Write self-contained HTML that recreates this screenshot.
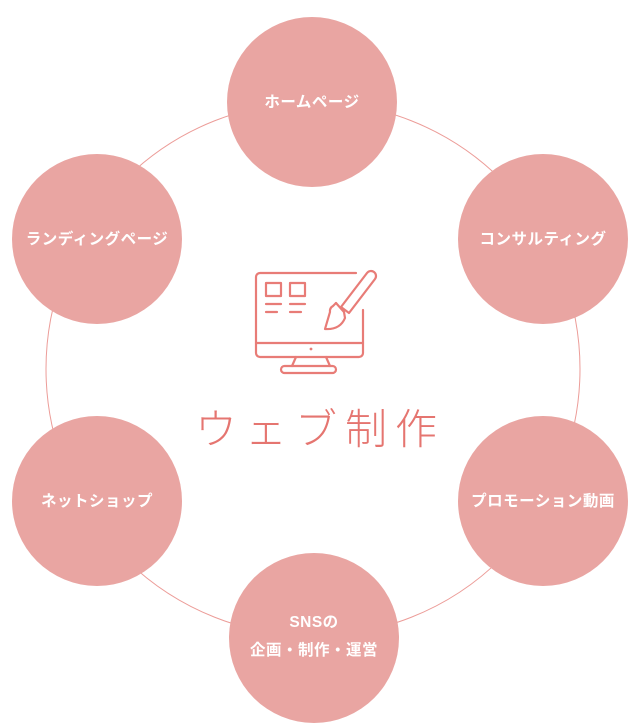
<!DOCTYPE html>
<html><head><meta charset="utf-8"><style>
html,body{margin:0;padding:0;background:#fff;}
svg{display:block;}
.l{font-family:"Liberation Sans","Noto Sans CJK JP",sans-serif;font-weight:bold;font-size:15.5px;fill:#fff;text-anchor:middle;letter-spacing:0.5px;}
</style></head><body>
<svg width="632" height="728" viewBox="0 0 632 728" xmlns="http://www.w3.org/2000/svg">
<circle cx="313" cy="369" r="267" fill="none" stroke="#ec9c98" stroke-width="1"/>
<g fill="#e9a5a2">
<circle cx="312" cy="102" r="85"/>
<circle cx="97" cy="239" r="85"/>
<circle cx="543" cy="239" r="85"/>
<circle cx="97" cy="501" r="85"/>
<circle cx="543" cy="501" r="85"/>
<circle cx="314" cy="638" r="85"/>
</g>
<text class="l" x="312" y="107">ホームページ</text>
<text class="l" x="97" y="244">ランディングページ</text>
<text class="l" x="543" y="244">コンサルティング</text>
<text class="l" x="97" y="506">ネットショップ</text>
<text class="l" x="543" y="506">プロモーション動画</text>
<text class="l" x="314" y="627">SNSの</text>
<text class="l" x="314" y="655">企画・制作・運営</text>
<g fill="none" stroke="#e87c77" stroke-width="2.2" stroke-linecap="round" stroke-linejoin="round">
<path d="M356 273 H260 a4 4 0 0 0 -4 4 V353 a4 4 0 0 0 4 4 H359 a4 4 0 0 0 4 -4 V310"/>
<line x1="256" y1="343" x2="363" y2="343"/>
<path d="M296 357 L292 366 M326 357 L330 366"/>
<rect x="281" y="366" width="55" height="7" rx="3.5"/>
<rect x="266" y="283" width="15" height="13"/>
<rect x="290" y="283" width="15" height="13"/>
<line x1="266" y1="304" x2="281" y2="304"/><line x1="290" y1="304" x2="305" y2="304"/>
<line x1="266" y1="312" x2="277" y2="312"/><line x1="290" y1="312" x2="301" y2="312"/>
<path d="M341 307 L367 273 a5 5 0 0 1 8 6 L349 313 Z"/>
<line x1="336" y1="303" x2="344" y2="312"/>
<path d="M336 303 L333 306 a6 6 0 0 0 -3 6 L325 329 Q340 330 345 318 L344 312"/>
</g>
<circle cx="311" cy="349" r="1.4" fill="#e87c77"/>
<text x="320" y="444" text-anchor="middle" font-family="'Liberation Sans','Noto Sans CJK JP',sans-serif" font-size="42" font-weight="300" fill="#e57570" letter-spacing="8">ウェブ制作</text>
</svg>
</body></html>
